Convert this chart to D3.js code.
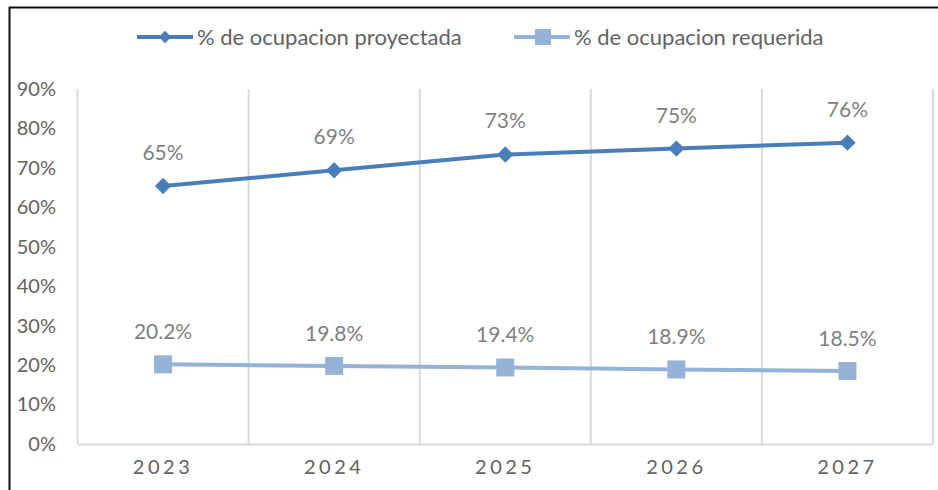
<!DOCTYPE html>
<html>
<head>
<meta charset="utf-8">
<script src="https://cdn.jsdelivr.net/npm/d3@7"></script>
<style>
  body { margin: 0; background: #fff; }
  text { font-family: Lato, "Liberation Sans", sans-serif; fill: #626262; }
</style>
</head>
<body>
<div id="chart"></div>
<script>
// data
var years = ["2023", "2024", "2025", "2026", "2027"];
var proyectada = [65.4, 69.4, 73.4, 74.9, 76.4];
var proyectadaLabels = ["65%", "69%", "73%", "75%", "76%"];
var requerida = [20.2, 19.8, 19.4, 18.9, 18.5];
var requeridaLabels = ["20.2%", "19.8%", "19.4%", "18.9%", "18.5%"];
var yTicks = [0, 10, 20, 30, 40, 50, 60, 70, 80, 90];
var seriesNames = ["% de ocupacion proyectada", "% de ocupacion requerida"];

var W = 938, H = 490;
var darkBlue = "#4a7ebb", lightBlue = "#95b3d7";

var svg = d3.select("#chart").append("svg")
  .attr("width", W)
  .attr("height", H);

// frame (only top and left edges are visible)
svg.append("line").attr("x1", 9).attr("x2", W).attr("y1", 7.5).attr("y2", 7.5)
  .attr("stroke", "#111").attr("stroke-width", 2);
svg.append("line").attr("x1", 9.5).attr("x2", 9.5).attr("y1", 7).attr("y2", H)
  .attr("stroke", "#111").attr("stroke-width", 2);

var x = d3.scaleBand().domain(years).range([77.5, 933]);
var y = d3.scaleLinear().domain([0, 90]).range([444, 89]);
var cx = function(d, i) { return x(years[i]) + x.bandwidth() / 2; };

// vertical gridlines at category edges
var edges = years.map(function(d) { return x(d); }).concat([x.range()[1]]);
svg.selectAll(".grid").data(edges).enter().append("line")
  .attr("x1", function(d) { return d; })
  .attr("x2", function(d) { return d; })
  .attr("y1", y(90)).attr("y2", y(0))
  .attr("stroke", "#d9d9d9").attr("stroke-width", 2);

// x axis
var xAxis = svg.append("g").attr("transform", "translate(0," + y(0) + ")")
  .call(d3.axisBottom(x).tickSize(0).tickPadding(16));
xAxis.select(".domain").attr("stroke", "#d9d9d9").attr("stroke-width", 2);
xAxis.selectAll("text").attr("font-size", 20).style("letter-spacing", "3.5px")
  .attr("font-family", null).attr("fill", null);

// y axis
var yAxis = svg.append("g").attr("transform", "translate(77,0)")
  .call(d3.axisLeft(y).tickValues(yTicks).tickSize(0).tickPadding(21)
    .tickFormat(function(d) { return d + "%"; }));
yAxis.select(".domain").remove();
yAxis.selectAll("text").attr("font-size", 20).attr("font-family", null).attr("fill", null);

var line = d3.line()
  .x(function(d, i) { return cx(d, i); })
  .y(function(d) { return y(d); });

// projected series
svg.append("path").datum(proyectada)
  .attr("d", line).attr("fill", "none")
  .attr("stroke", darkBlue).attr("stroke-width", 4);
svg.selectAll(".diamond").data(proyectada).enter().append("path")
  .attr("d", d3.symbol(d3.symbolDiamond2, 170))
  .attr("transform", function(d, i) { return "translate(" + cx(d, i) + "," + y(d) + ")"; })
  .attr("fill", darkBlue);
svg.selectAll(".lblP").data(proyectada).enter().append("text")
  .attr("x", function(d, i) { return cx(d, i); })
  .attr("y", function(d) { return y(d) - 26; })
  .attr("text-anchor", "middle").attr("font-size", 21)
  .style("fill", "#7f7f7f")
  .text(function(d, i) { return proyectadaLabels[i]; });

// required series
svg.append("path").datum(requerida)
  .attr("d", line).attr("fill", "none")
  .attr("stroke", lightBlue).attr("stroke-width", 4);
svg.selectAll(".square").data(requerida).enter().append("rect")
  .attr("x", function(d, i) { return cx(d, i) - 9; })
  .attr("y", function(d) { return y(d) - 9; })
  .attr("width", 18).attr("height", 18)
  .attr("fill", lightBlue);
svg.selectAll(".lblR").data(requerida).enter().append("text")
  .attr("x", function(d, i) { return cx(d, i); })
  .attr("y", function(d) { return y(d) - 25; })
  .attr("text-anchor", "middle").attr("font-size", 21)
  .style("fill", "#7f7f7f")
  .text(function(d, i) { return requeridaLabels[i]; });

// legend
var legend = svg.append("g").attr("transform", "translate(0,37)");
var lx = [137, 514];
var colors = [darkBlue, lightBlue];
seriesNames.forEach(function(name, i) {
  var g = legend.append("g").attr("transform", "translate(" + lx[i] + ",0)");
  g.append("line").attr("x1", 0).attr("x2", 56).attr("stroke", colors[i]).attr("stroke-width", 4);
  if (i == 0) {
    g.append("path").attr("d", d3.symbol(d3.symbolDiamond2, 100))
      .attr("transform", "translate(28,0)").attr("fill", colors[i]);
  } else {
    g.append("rect").attr("x", 21).attr("y", -8).attr("width", 16).attr("height", 16)
      .attr("fill", colors[i]);
  }
  g.append("text").attr("x", 60).attr("dy", "0.35em").attr("font-size", 22).text(name);
});
</script>
</body>
</html>
